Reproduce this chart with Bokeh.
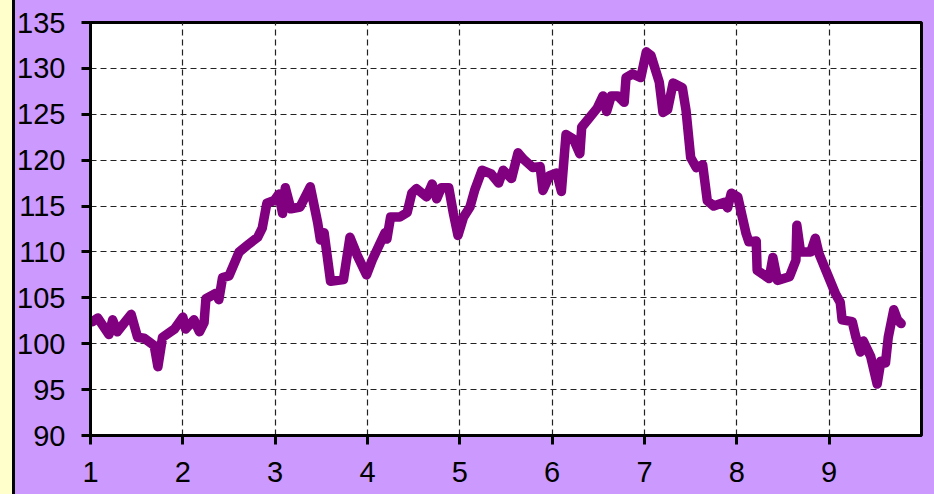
from bokeh.plotting import figure
from bokeh.models import Range1d, FixedTicker
from bokeh.embed import file_html
from bokeh.resources import INLINE

# ---- data ----
x_vals = [1.02, 1.08, 1.20, 1.24, 1.29, 1.44, 1.51, 1.58, 1.69, 1.73,
          1.78, 1.91, 2.00, 2.03, 2.12, 2.18, 2.23, 2.25, 2.36, 2.39,
          2.43, 2.50, 2.61, 2.72, 2.81, 2.86, 2.91, 2.99, 3.04, 3.08,
          3.11, 3.17, 3.27, 3.38, 3.46, 3.49, 3.53, 3.60, 3.74, 3.81,
          3.89, 3.99, 4.05, 4.19, 4.21, 4.25, 4.35, 4.43, 4.48, 4.53,
          4.64, 4.70, 4.75, 4.80, 4.88, 4.93, 4.98, 5.04, 5.11, 5.16,
          5.24, 5.34, 5.42, 5.47, 5.56, 5.63, 5.69, 5.79, 5.87, 5.90,
          5.97, 6.05, 6.10, 6.15, 6.23, 6.30, 6.32, 6.41, 6.49, 6.55,
          6.59, 6.64, 6.71, 6.78, 6.80, 6.87, 6.96, 7.02, 7.07, 7.16,
          7.20, 7.25, 7.31, 7.41, 7.45, 7.50, 7.56, 7.63, 7.68, 7.75,
          7.86, 7.90, 7.94, 8.01, 8.10, 8.13, 8.21, 8.22, 8.35, 8.39,
          8.44, 8.57, 8.64, 8.65, 8.69, 8.80, 8.85, 8.89, 9.07, 9.12,
          9.14, 9.25, 9.29, 9.34, 9.37, 9.45, 9.52, 9.56, 9.61, 9.64,
          9.70, 9.74, 9.78]

y_vals = [102.4, 102.8, 101.0, 102.6, 101.3, 103.2, 100.7, 100.6, 99.8, 97.5,
          100.7, 101.6, 102.9, 101.6, 102.6, 101.3, 102.3, 104.9, 105.5, 104.8,
          107.2, 107.4, 110.0, 110.9, 111.6, 112.6, 115.3, 115.6, 116.3, 114.2,
          117.0, 114.7, 114.9, 117.1, 113.2, 111.3, 112.1, 106.8, 107.0, 111.6,
          109.6, 107.5, 109.1, 112.1, 111.4, 113.8, 113.8, 114.3, 116.4, 116.9,
          116.0, 117.4, 115.8, 117.0, 117.0, 114.2, 111.8, 113.8, 114.9, 116.7,
          118.9, 118.5, 117.5, 118.9, 118.0, 120.8, 120.1, 119.2, 119.3, 116.7,
          118.3, 118.6, 116.6, 122.8, 122.3, 120.7, 123.6, 124.7, 125.7, 127.0,
          125.3, 127.0, 127.0, 126.3, 129.0, 129.4, 129.0, 131.8, 131.4, 128.5,
          125.2, 125.5, 128.4, 127.9, 125.4, 120.3, 119.2, 119.5, 115.6, 115.0,
          115.4, 114.8, 116.4, 116.0, 112.0, 111.1, 111.2, 108.0, 107.1, 109.4,
          106.9, 107.3, 109.1, 112.9, 110.0, 110.0, 111.5, 109.8, 105.4, 104.5,
          102.6, 102.4, 100.7, 99.1, 100.3, 98.6, 95.6, 98.1, 97.9, 100.7,
          103.7, 102.6, 102.2]

x_ticks = [1, 2, 3, 4, 5, 6, 7, 8, 9]
y_ticks = [90, 95, 100, 105, 110, 115, 120, 125, 130, 135]
x_limits = (1, 10)
y_limits = (90, 135)

# ---- style ----
PURPLE_BG = "#CC99FF"
YELLOW = "#FFFFCC"
LINE = "#800080"
FONT = "Liberation Sans"

p = figure(width=934, height=494, output_backend="svg", toolbar_location=None,
           x_range=Range1d(*x_limits), y_range=Range1d(*y_limits),
           min_border_left=90, min_border_right=13, min_border_top=22,
           min_border_bottom=59)
p.title.visible = False
p.styles = {"background": "linear-gradient(to right, %s 0px, %s 12px, #000000 12px, "
                          "#000000 15px, %s 15px, %s 100%%)" % (YELLOW, YELLOW, PURPLE_BG, PURPLE_BG)}
p.border_fill_alpha = 0
p.background_fill_color = "white"
p.outline_line_color = "black"
p.outline_line_width = 3

for ax, ticks in ((p.xaxis, x_ticks), (p.yaxis, y_ticks)):
    ax.ticker = FixedTicker(ticks=ticks)
    ax.axis_line_color = "black"
    ax.axis_line_width = 3
    ax.major_tick_line_color = "black"
    ax.major_tick_line_width = 3
    ax.major_tick_out = 9
    ax.major_tick_in = 0
    ax.minor_tick_line_color = None
    ax.major_label_text_font = FONT
    ax.major_label_text_font_size = "29px"
    ax.major_label_text_color = "black"
p.xaxis.major_label_standoff = 17
p.yaxis.major_label_standoff = 16

p.xgrid.ticker = FixedTicker(ticks=x_ticks)
p.ygrid.ticker = FixedTicker(ticks=y_ticks)
for g in (p.xgrid, p.ygrid):
    g.grid_line_color = "#222222"
    g.grid_line_width = 1.2
    g.grid_line_dash = "6 4"

p.line(x_vals, y_vals, line_color=LINE, line_width=9.5,
       line_join="round", line_cap="round")

open("out.html", "w").write(file_html(p, INLINE))
